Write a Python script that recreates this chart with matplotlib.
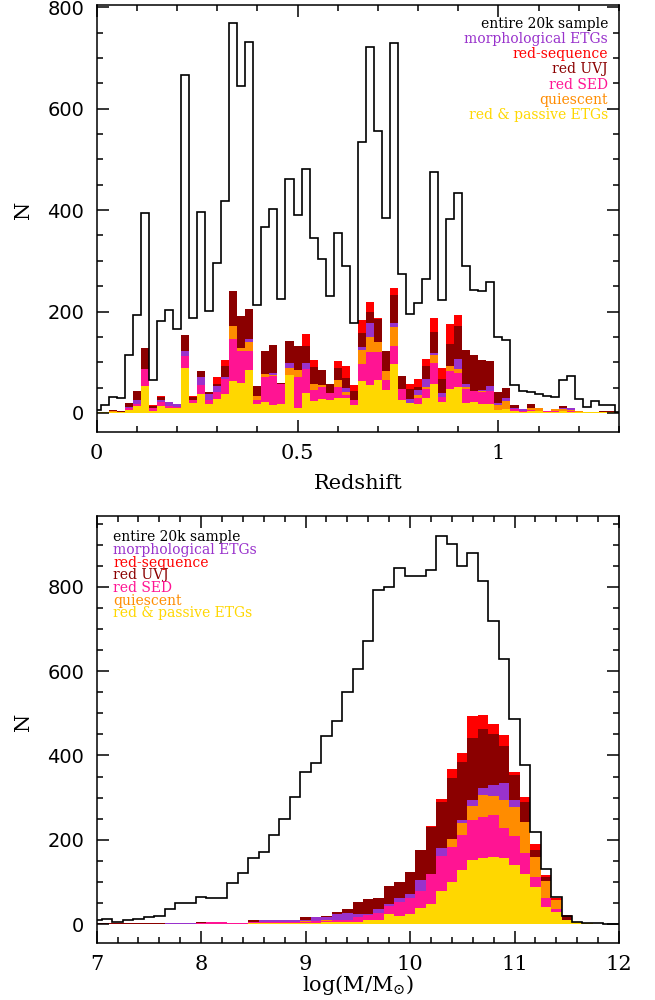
import numpy as np
import matplotlib
matplotlib.use("Agg")
import matplotlib.pyplot as plt
from matplotlib.ticker import MultipleLocator, FuncFormatter

plt.rcParams["font.family"] = ["DejaVu Serif"]
plt.rcParams["mathtext.fontset"] = "dejavuserif"

# ---- redshift panel: bins of 0.02 centred on 0.00 ... 1.30 ----
z_centers = np.round(np.arange(0.0, 1.301, 0.02), 2)
z_total = [6, 16, 31, 29, 114, 193, 395, 65, 182, 203,
           166, 666, 188, 396, 201, 295, 418, 768, 645, 732,
           212, 366, 402, 225, 461, 390, 482, 344, 303, 231,
           354, 290, 177, 534, 722, 555, 384, 729, 274, 195,
           216, 265, 476, 223, 382, 434, 290, 242, 240, 259,
           150, 144, 55, 44, 41, 37, 34, 32, 65, 72,
           27, 11, 24, 16, 16, 2]
z_redseq = [2, 2, 5, 3, 19, 43, 128, 15, 33, 22,
            17, 154, 33, 83, 42, 71, 104, 240, 191, 204,
            53, 122, 134, 60, 142, 132, 155, 104, 85, 58,
            103, 93, 56, 183, 219, 188, 122, 246, 73, 57,
            66, 106, 188, 88, 175, 193, 124, 114, 104, 102,
            42, 49, 16, 7, 17, 9, 4, 8, 14, 9,
            4, 2, 2, 4, 3, 2]
z_uvj = [2, 2, 5, 3, 19, 43, 128, 14, 31, 22,
         17, 154, 32, 83, 42, 57, 93, 240, 191, 204,
         53, 122, 134, 60, 142, 132, 132, 90, 85, 58,
         89, 68, 43, 158, 200, 185, 122, 232, 73, 47,
         52, 93, 160, 66, 136, 171, 124, 114, 104, 102,
         42, 49, 16, 7, 17, 9, 4, 8, 14, 9,
         4, 2, 2, 3, 3, 2]
z_morph = [2, 2, 3, 2, 12, 25, 86, 10, 25, 22,
           17, 122, 25, 71, 37, 54, 70, 171, 129, 145,
           33, 76, 78, 58, 99, 85, 98, 58, 55, 39,
           65, 50, 25, 131, 177, 139, 83, 177, 48, 27,
           46, 67, 119, 39, 92, 106, 58, 44, 46, 53,
           20, 29, 9, 7, 10, 9, 4, 8, 10, 9,
           4, 2, 2, 2, 2, 1]
z_quies = [2, 2, 3, 2, 9, 17, 86, 10, 22, 14,
           12, 112, 25, 56, 25, 42, 66, 171, 129, 140,
           33, 76, 74, 58, 88, 85, 86, 58, 55, 39,
           65, 42, 25, 125, 149, 139, 83, 170, 48, 20,
           36, 52, 114, 32, 92, 86, 52, 44, 44, 44,
           16, 24, 7, 3, 10, 9, 4, 8, 7, 6,
           3, 2, 2, 2, 2, 1]
z_sed = [1, 1, 2, 2, 9, 17, 86, 10, 22, 14,
         12, 112, 25, 56, 25, 42, 66, 146, 122, 122,
         25, 71, 73, 58, 75, 71, 86, 45, 52, 39,
         52, 35, 25, 97, 121, 121, 65, 132, 48, 20,
         30, 48, 99, 32, 82, 78, 47, 44, 42, 44,
         6, 7, 7, 3, 5, 4, 3, 3, 4, 3,
         2, 1, 1, 1, 1, 1]
z_passive = [1, 1, 2, 2, 6, 14, 53, 4, 13, 10,
             9, 88, 20, 37, 17, 27, 37, 62, 60, 85,
             17, 22, 16, 17, 75, 10, 40, 24, 27, 25,
             30, 30, 16, 63, 55, 65, 45, 96, 25, 19,
             17, 29, 58, 22, 47, 52, 19, 22, 17, 17,
             6, 7, 4, 2, 4, 4, 2, 2, 3, 2,
             1, 1, 1, 1, 1, 1]

# ---- stellar mass panel: bins of 0.1 dex centred on 7.0 ... 12.0 ----
m_centers = np.round(np.arange(7.0, 12.01, 0.1), 1)
m_total = [11, 13, 6, 10, 13, 16, 19, 36, 49, 51,
           65, 61, 63, 98, 122, 157, 172, 211, 250, 302,
           361, 383, 446, 482, 550, 604, 672, 792, 800, 845,
           826, 826, 840, 921, 901, 849, 880, 815, 720, 629,
           486, 377, 218, 130, 65, 20, 6, 2, 2, 1, 0]
m_redseq = [2, 2, 2, 2, 2, 2, 2, 3, 3, 3,
            6, 5, 5, 3, 3, 10, 10, 11, 11, 10,
            16, 16, 19, 28, 35, 53, 59, 63, 90, 100,
            123, 177, 233, 296, 369, 407, 494, 496, 475, 448,
            361, 302, 191, 116, 62, 21, 5, 2, 1, 1, 0]
m_uvj = [2, 2, 2, 2, 2, 2, 2, 3, 3, 3,
         6, 5, 5, 3, 3, 10, 10, 11, 11, 10,
         16, 16, 19, 28, 35, 53, 59, 63, 90, 100,
         123, 177, 231, 290, 346, 385, 441, 464, 450, 422,
         354, 290, 176, 111, 58, 20, 5, 2, 1, 1, 0]
m_morph = [1, 1, 1, 1, 1, 1, 1, 2, 2, 2,
           3, 4, 4, 3, 3, 6, 10, 11, 10, 10,
           10, 16, 17, 25, 27, 23, 25, 37, 47, 63,
           71, 104, 120, 180, 201, 247, 294, 322, 330, 335,
           294, 243, 160, 102, 57, 11, 5, 2, 1, 1, 0]
m_quies = [1, 1, 1, 1, 1, 1, 1, 1, 1, 1,
           3, 3, 3, 3, 3, 5, 5, 6, 6, 6,
           7, 8, 9, 10, 11, 17, 21, 27, 43, 53,
           63, 79, 120, 161, 201, 240, 280, 306, 304, 294,
           277, 243, 160, 102, 57, 11, 5, 2, 1, 1, 0]
m_sed = [1, 1, 1, 1, 1, 1, 1, 1, 1, 1,
         3, 4, 4, 2, 2, 4, 4, 5, 5, 5,
         6, 7, 8, 10, 11, 17, 21, 27, 43, 53,
         63, 79, 120, 161, 182, 211, 247, 255, 259, 229,
         209, 168, 112, 61, 37, 10, 5, 2, 1, 1, 0]
m_passive = [1, 1, 1, 1, 1, 1, 1, 1, 1, 1,
             1, 1, 1, 1, 1, 2, 2, 2, 2, 2,
             3, 3, 4, 6, 6, 6, 11, 11, 24, 19,
             25, 39, 47, 78, 100, 128, 152, 157, 160, 156,
             140, 119, 89, 41, 29, 10, 5, 2, 1, 1, 0]

LABELS = ["entire 20k sample", "morphological ETGs", "red-sequence",
          "red UVJ", "red SED", "quiescent", "red & passive ETGs"]
LABEL_COLORS = ["black", "#9932CC", "#FF0000", "#8B0000", "#FF1493",
                "#FF8C00", "#FFD700"]
# drawing order of the filled histograms (later ones cover earlier ones)
FILL_COLORS = ["#FF0000", "#8B0000", "#9932CC", "#FF8C00", "#FF1493", "#FFD700"]


def edges_from_centers(c):
    w = c[1] - c[0]
    return np.append(c - w / 2, c[-1] + w / 2)


def draw_panel(ax, centers, total, layers):
    edges = edges_from_centers(centers)
    for vals, col in zip(layers, FILL_COLORS):
        ax.stairs(vals, edges, fill=True, color=col, lw=0)
    ax.stairs(total, edges, color="black", lw=1.2, baseline=None)
    ax.tick_params(which="both", direction="in", top=True, right=True,
                   width=1.1)
    ax.tick_params(which="major", length=8.5)
    ax.tick_params(which="minor", length=4.5)
    ax.tick_params(axis="x", labelsize=15, pad=9)
    ax.tick_params(axis="y", labelsize=14, pad=9, labelfontfamily="DejaVu Sans")
    ax.yaxis.set_major_locator(MultipleLocator(200))
    ax.yaxis.set_minor_locator(MultipleLocator(50))
    for sp in ax.spines.values():
        sp.set_linewidth(1.1)


fig = plt.figure(figsize=(6.55, 10), dpi=100)
ax1 = fig.add_axes([0.1475, 0.5683, 0.7975, 0.427])
ax2 = fig.add_axes([0.1475, 0.0573, 0.7975, 0.4267])

draw_panel(ax1, z_centers, z_total,
           [z_redseq, z_uvj, z_morph, z_quies, z_sed, z_passive])
ax1.set_xlim(0, 1.3)
ax1.set_ylim(-37, 805)
ax1.xaxis.set_major_locator(MultipleLocator(0.5))
ax1.xaxis.set_minor_locator(MultipleLocator(0.1))
ax1.xaxis.set_major_formatter(FuncFormatter(lambda v, _p: f"{v:g}"))
ax1.set_xlabel("Redshift", fontsize=15)
ax1.xaxis.set_label_coords(0.5, -0.099)
ax1.xaxis.label.set_va("top")

draw_panel(ax2, m_centers, m_total,
           [m_redseq, m_uvj, m_morph, m_quies, m_sed, m_passive])
ax2.set_xlim(7, 12)
ax2.set_ylim(-44, 968)
ax2.xaxis.set_major_locator(MultipleLocator(1))
ax2.xaxis.set_minor_locator(MultipleLocator(0.2))
ax2.set_xlabel(r"$\mathrm{log(M/M_{\odot})}$", fontsize=15)
ax2.xaxis.set_label_coords(0.5, -0.072)
ax2.xaxis.label.set_va("top")

fig.text(23 / 655, 1 - 210 / 1000, "N", rotation=90, ha="center", va="center", fontsize=15)
fig.text(23 / 655, 1 - 722 / 1000, "N", rotation=90, ha="center", va="center", fontsize=15)

top_y = [24, 39.3, 54.3, 69.3, 84.7, 99.7, 115.3]
bot_y = [537.3, 550, 562.7, 575.3, 587.7, 600.7, 613.3]
for lab, col, yt, yb in zip(LABELS, LABEL_COLORS, top_y, bot_y):
    fig.text(608 / 655, 1 - yt / 1000, lab, color=col, fontsize=10,
             ha="right", va="center")
    fig.text(113 / 655, 1 - yb / 1000, lab, color=col, fontsize=10,
             ha="left", va="center")

fig.savefig("out.png", dpi=100, facecolor="white")
